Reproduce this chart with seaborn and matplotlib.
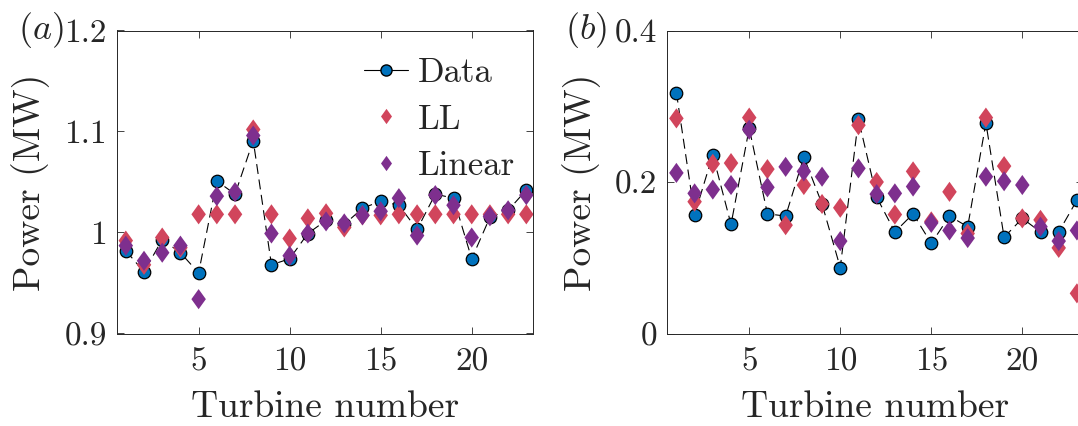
import numpy as np
import pandas as pd
import matplotlib
matplotlib.use("Agg")
import matplotlib.pyplot as plt
from matplotlib.lines import Line2D
import seaborn as sns

turbines = list(range(1, 24))

# Panel (a)
data_a = [0.982, 0.961, 0.993, 0.980, 0.960, 1.051, 1.038, 1.091, 0.968, 0.974,
          0.999, 1.012, 1.008, 1.024, 1.031, 1.027, 1.003, 1.038, 1.034, 0.974,
          1.015, 1.022, 1.042]
ll_a = [0.992, 0.968, 0.995, 0.985, 1.018, 1.018, 1.018, 1.102, 1.018, 0.994,
        1.014, 1.019, 1.005, 1.017, 1.017, 1.018, 1.018, 1.018, 1.018, 1.018,
        1.018, 1.018, 1.018]
lin_a = [0.987, 0.972, 0.980, 0.987, 0.934, 1.036, 1.040, 1.096, 0.999, 0.977,
         0.999, 1.011, 1.009, 1.017, 1.021, 1.034, 0.997, 1.037, 1.027, 0.995,
         1.016, 1.022, 1.037]

# Panel (b)
data_b = [0.318, 0.157, 0.236, 0.144, 0.271, 0.158, 0.155, 0.233, 0.171, 0.087,
          0.283, 0.180, 0.134, 0.158, 0.119, 0.155, 0.141, 0.278, 0.127, 0.152,
          0.134, 0.134, 0.176]
ll_b = [0.284, 0.174, 0.224, 0.225, 0.285, 0.217, 0.143, 0.196, 0.171, 0.166,
        0.275, 0.200, 0.157, 0.214, 0.148, 0.187, 0.132, 0.285, 0.221, 0.152,
        0.150, 0.113, 0.053]
lin_b = [0.212, 0.185, 0.190, 0.196, 0.269, 0.193, 0.220, 0.214, 0.207, 0.122,
         0.218, 0.184, 0.185, 0.194, 0.146, 0.136, 0.126, 0.207, 0.201, 0.196,
         0.141, 0.122, 0.136]

ylim_a = (0.9, 1.2)
yticks_a = [0.9, 1.0, 1.1, 1.2]
yticklabels_a = ["0.9", "1", "1.1", "1.2"]
ylim_b = (0.0, 0.4)
yticks_b = [0.0, 0.2, 0.4]
yticklabels_b = ["0", "0.2", "0.4"]
xticks = [5, 10, 15, 20]
xticklabels = ["5", "10", "15", "20"]
panel_labels = ["$(a)$", "$(b)$"]
series_names = ["Data", "LL", "Linear"]

sns.set_theme(style="ticks")
plt.rcParams["font.family"] = ["cmr10", "DejaVu Serif"]
plt.rcParams["mathtext.fontset"] = "cm"
plt.rcParams["axes.formatter.use_mathtext"] = True

C_DATA = "#0072BD"
C_LL = "#D1455C"
C_LIN = "#7E2F8E"
AX_COL = "#262626"
DIAMOND = [(0, 1), (0.72, 0), (0, -1), (-0.72, 0), (0, 1)]

W, H = 1078, 426
fig = plt.figure(figsize=(W / 100, H / 100), dpi=100)
ax_a = fig.add_axes([116.7 / W, 1 - 333.5 / H, 416 / W, 303 / H])
ax_b = fig.add_axes([667.3 / W, 1 - 333.5 / H, 416 / W, 303 / H])

panels = [
    (ax_a, data_a, ll_a, lin_a, ylim_a, yticks_a, yticklabels_a, -0.128),
    (ax_b, data_b, ll_b, lin_b, ylim_b, yticks_b, yticklabels_b, -0.146),
]

for i, (ax, d, ll, lin, ylim, yt, ytl, lx) in enumerate(panels):
    df = pd.DataFrame({"t": turbines, "Data": d, "LL": ll, "Linear": lin})
    sns.lineplot(data=df, x="t", y="Data", ax=ax, color="black", linewidth=0.8,
                 marker="o", markersize=9, markerfacecolor=C_DATA,
                 markeredgecolor="black", markeredgewidth=0.9,
                 linestyle=(0, (9, 5)), zorder=2)
    sns.scatterplot(data=df, x="t", y="LL", ax=ax, marker=DIAMOND, s=210,
                    color=C_LL, edgecolor="none", linewidth=0, zorder=3)
    sns.scatterplot(data=df, x="t", y="Linear", ax=ax, marker=DIAMOND, s=210,
                    color=C_LIN, edgecolor="none", linewidth=0, zorder=4)
    ax.set_xlim(0.5, 23.35)
    ax.set_ylim(*ylim)
    ax.set_yticks(yt)
    ax.set_yticklabels(ytl)
    ax.set_xticks(xticks)
    ax.set_xticklabels(xticklabels)
    ax.tick_params(direction="in", length=5, width=0.6, top=True, right=True,
                   labelsize=24, colors=AX_COL)
    ax.tick_params(axis="x", pad=10)
    ax.tick_params(axis="y", pad=7)
    for sp in ax.spines.values():
        sp.set_linewidth(0.7)
        sp.set_color(AX_COL)
        sp.set_visible(True)
    ax.set_xlabel("Turbine number", fontsize=27, color=AX_COL, labelpad=10)
    ax.set_ylabel("Power (MW)", fontsize=27, color=AX_COL, labelpad=10)
    ax.text(lx, 1.0, panel_labels[i], transform=ax.transAxes, fontsize=26,
            color=AX_COL, ha="right", va="center")
    leg = ax.get_legend()
    if leg is not None:
        leg.remove()

handles = [
    Line2D([], [], color="black", linewidth=0.8, marker="o", markersize=8,
           markerfacecolor=C_DATA, markeredgecolor="black"),
    Line2D([], [], linestyle="none", marker=DIAMOND, markersize=11,
           color=C_LL, markeredgecolor="none"),
    Line2D([], [], linestyle="none", marker=DIAMOND, markersize=11,
           color=C_LIN, markeredgecolor="none"),
]
ax_a.legend(handles, series_names, loc="upper left", bbox_to_anchor=(0.595, 0.91),
            frameon=False, fontsize=25, handlelength=1.25, handletextpad=0.3,
            labelspacing=0.42, borderaxespad=0, borderpad=0)

fig.savefig("out.png", dpi=100)
